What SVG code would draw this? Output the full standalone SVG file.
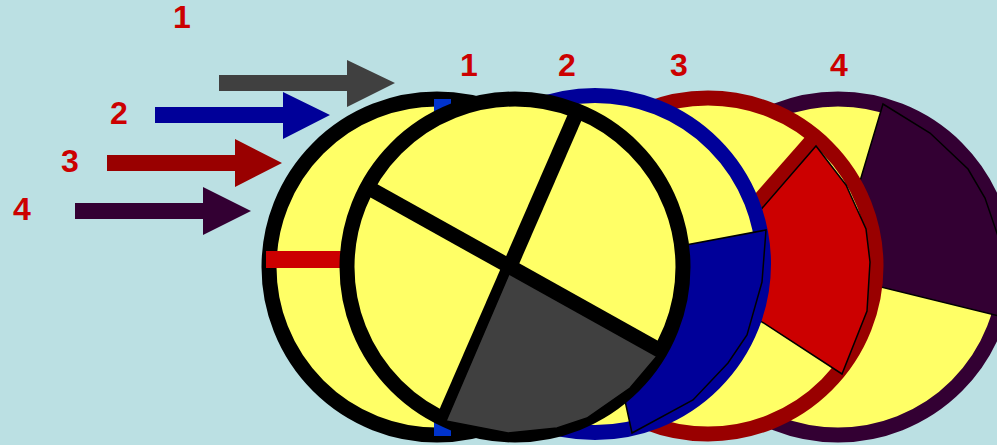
<svg xmlns="http://www.w3.org/2000/svg" width="997" height="445" viewBox="0 0 997 445">
  <style>
    .ring { fill: #FFFF66; stroke-width: 15; }
    .wedge { stroke: #000000; stroke-width: 1.5; stroke-linejoin: miter; }
    .spoke { stroke-width: 15; stroke-linecap: butt; fill: none; }
    .lbl { font-family: "Liberation Sans", Arial, sans-serif; font-weight: bold; font-size: 32px; fill: #CC0000; text-anchor: middle; }
  </style>
  <rect x="0" y="0" width="997" height="445" fill="#BBE0E3"/>

  <g id="labels">
    <text class="lbl" x="182" y="28">1</text>
    <text class="lbl" x="119" y="124">2</text>
    <text class="lbl" x="70" y="172">3</text>
    <text class="lbl" x="22" y="220">4</text>
    <text class="lbl" x="469" y="76">1</text>
    <text class="lbl" x="567" y="76">2</text>
    <text class="lbl" x="679" y="76">3</text>
    <text class="lbl" x="839" y="76">4</text>
  </g>

  <g id="connectors">
    <polygon fill="#404040" points="219,75 347,75 347,60 395,83 347,107 347,91 219,91"/>
    <polygon fill="#000099" points="155,107 283,107 283,92 330,115 283,139 283,123 155,123"/>
    <polygon fill="#990000" points="107,155 235,155 235,139 282,163 235,187 235,171 107,171"/>
    <polygon fill="#330033" points="75,203 203,203 203,187 251,211 203,235 203,219 75,219"/>
  </g>

  <g id="wheel4">
    <circle class="ring" cx="838" cy="267" r="168" stroke="#330033"/>
    <polygon class="wedge" fill="#330033" points="832,275 883,104 930,133 968,169 985,198 1001,245 1004,281 999,316"/>
  </g>

  <g id="wheel3">
    <circle class="ring" cx="708" cy="266" r="168" stroke="#990000"/>
    <line class="spoke" stroke="#990000" x1="693" y1="276" x2="816" y2="136"/>
    <polygon class="wedge" fill="#CC0000" points="699,281 816,146 846,185 866,229 870,262 867,311 842,374"/>
  </g>

  <g id="wheel2">
    <circle class="ring" cx="595" cy="264" r="168.5" stroke="#000099"/>
    <polygon class="wedge" fill="#000099" points="595,262 766,230 762,282 747,335 728,363 693,400 632,433"/>
  </g>

  <g id="wheel0">
    <circle class="ring" cx="437" cy="267" r="168" stroke="#000000"/>
    <rect x="266" y="251" width="120" height="17" fill="#CC0000"/>
    <rect x="434" y="99" width="17" height="337" fill="#0033CC"/>
  </g>

  <g id="wheel1">
    <circle class="ring" cx="515" cy="267" r="168" stroke="#000000"/>
    <line class="spoke" stroke="#000000" x1="443" y1="420" x2="577" y2="112"/>
    <polygon class="wedge" fill="#404040" points="512,267 446,421 508,433 557,428 587,418 630,388 658,355"/>
    <line class="spoke" stroke="#000000" x1="367" y1="187" x2="661" y2="351"/>
  </g>
</svg>
